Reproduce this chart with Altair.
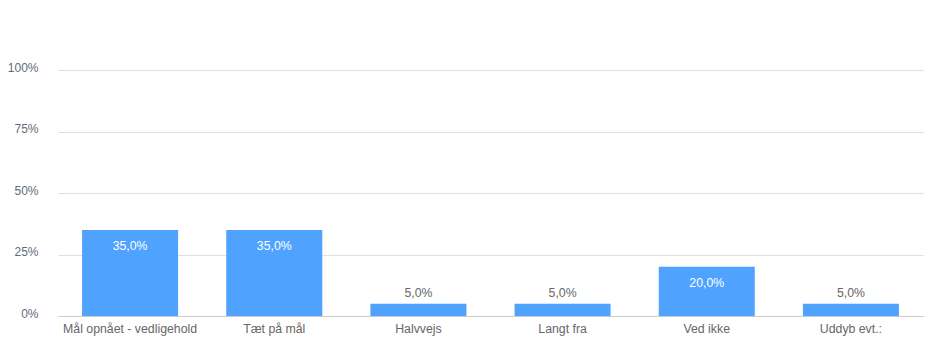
import altair as alt
import pandas as pd

categories = ["Mål opnået - vedligehold", "Tæt på mål", "Halvvejs", "Langt fra", "Ved ikke", "Uddyb evt.:"]
values = [0.35, 0.35, 0.05, 0.05, 0.20, 0.05]

df = pd.DataFrame({"cat": categories, "val": values})
df["label"] = [f"{v*100:.1f}%".replace(".", ",") for v in values]
df["inside"] = [v >= 0.1 for v in values]

FONT = "Liberation Sans"

x = alt.X("cat:N", sort=categories, title=None,
          scale=alt.Scale(paddingInner=0.334, paddingOuter=0.167),
          axis=alt.Axis(labelAngle=0, labelColor="#666666", labelFontSize=12.3, labelFont=FONT,
                        ticks=False, grid=False, domainColor="#cccccc", labelPadding=6))
y = alt.Y("val:Q", title=None,
          scale=alt.Scale(domain=[0, 1]),
          axis=alt.Axis(values=[0, 0.25, 0.5, 0.75, 1], format=".0%", labelColor="#5f6b7a",
                        labelFontSize=12, labelFont=FONT, ticks=False, domain=False,
                        gridColor="#e0e0e0", labelPadding=20, labelOffset=-3))

bars = alt.Chart(df).mark_bar(color="#50a2ff").encode(x=x, y=y)

inside = alt.Chart(df).transform_filter("datum.inside").mark_text(
    color="white", fontSize=12.3, font=FONT, baseline="top", dy=10
).encode(x=alt.X("cat:N", sort=categories), y="val:Q", text="label:N")

outside = alt.Chart(df).transform_filter("!datum.inside").mark_text(
    color="#666666", fontSize=12.3, font=FONT, baseline="bottom", dy=-4
).encode(x=alt.X("cat:N", sort=categories), y="val:Q", text="label:N")

chart = (bars + inside + outside).properties(
    width=865, height=246,
    background="white",
    autosize=alt.AutoSizeParams(type="none"),
    padding={"left": 58, "top": 70, "right": 4, "bottom": 33},
).configure_view(strokeWidth=0, stroke=None)

chart.save("out.html", embed_options={"renderer": "svg", "actions": False})
